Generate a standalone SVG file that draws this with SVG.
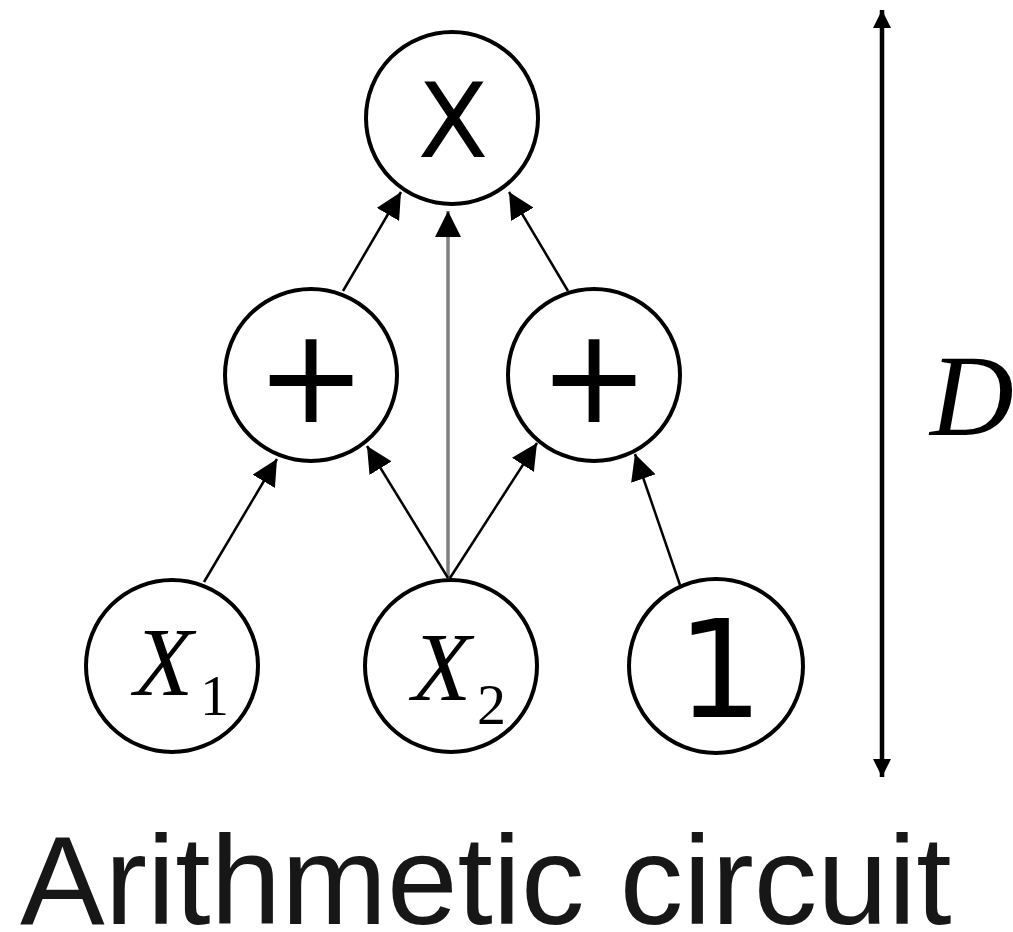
<svg xmlns="http://www.w3.org/2000/svg" width="1013" height="932" viewBox="0 0 1013 932">
<style>
.node{fill:#fff;stroke:#000;stroke-width:4}
.edge{stroke:#000;stroke-width:2.5;fill:none}
.gray{stroke:#808080;stroke-width:3.5;fill:none}
.sym{font-family:"DejaVu Sans",sans-serif;fill:#000;text-anchor:middle}
.var{font-family:"Liberation Serif",serif;font-style:italic;fill:#000}
.sub{font-family:"Liberation Serif",serif;fill:#000}
</style>
<defs>
<marker id="ah" markerUnits="userSpaceOnUse" markerWidth="26" markerHeight="26" viewBox="0 0 26 26" refX="26" refY="13" orient="auto">
<path d="M0,0 L26,13 L0,26 Z" fill="#000"/>
</marker>
<marker id="dh" markerUnits="userSpaceOnUse" markerWidth="18" markerHeight="18" viewBox="0 0 18 18" refX="18" refY="9" orient="auto-start-reverse">
<path d="M0,0 L18,9 L0,18 Z" fill="#000"/>
</marker>
</defs>
<rect width="1013" height="932" fill="#fff"/>
<g id="connectors">
<line class="edge" x1="343" y1="291" x2="401" y2="192" marker-end="url(#ah)"/>
<line class="gray" x1="448" y1="578" x2="448" y2="211" marker-end="url(#ah)"/>
<line class="edge" x1="568" y1="291" x2="509" y2="192" marker-end="url(#ah)"/>
<line class="edge" x1="204" y1="582" x2="277" y2="459" marker-end="url(#ah)"/>
<line class="edge" x1="448" y1="578" x2="367" y2="446" marker-end="url(#ah)"/>
<line class="edge" x1="450" y1="578" x2="537" y2="443" marker-end="url(#ah)"/>
<line class="edge" x1="680" y1="585" x2="635" y2="454" marker-end="url(#ah)"/>
<line x1="882" y1="10" x2="882" y2="777" stroke="#000" stroke-width="4.5" marker-start="url(#dh)" marker-end="url(#dh)"/>
</g>
<g id="node-times">
<circle class="node" cx="452" cy="118" r="86"/>
<text class="sym" x="453" y="157" font-size="103">X</text>
</g>
<g id="node-plus-left">
<circle class="node" cx="311" cy="375" r="86"/>
<text class="sym" x="311" y="422" font-size="132">+</text>
</g>
<g id="node-plus-right">
<circle class="node" cx="594" cy="375" r="86"/>
<text class="sym" x="594" y="422" font-size="132">+</text>
</g>
<g id="node-x1">
<circle class="node" cx="172" cy="666" r="86"/>
<text class="var" x="134" y="695" font-size="97">X</text>
<text class="sub" x="200" y="715" font-size="58">1</text>
</g>
<g id="node-x2">
<circle class="node" cx="451" cy="666" r="86"/>
<text class="var" x="412" y="700" font-size="97">X</text>
<text class="sub" x="477" y="724" font-size="58">2</text>
</g>
<g id="node-one">
<circle class="node" cx="716" cy="666" r="87"/>
<text class="sym" x="720" y="717" font-size="136">1</text>
</g>
<text x="930" y="435" font-family="Liberation Serif,serif" font-style="italic" font-size="116" fill="#000">D</text>
<text x="20" y="924" font-family="Liberation Sans,Arial,sans-serif" font-size="127" fill="#171717">Arithmetic circuit</text>
</svg>
